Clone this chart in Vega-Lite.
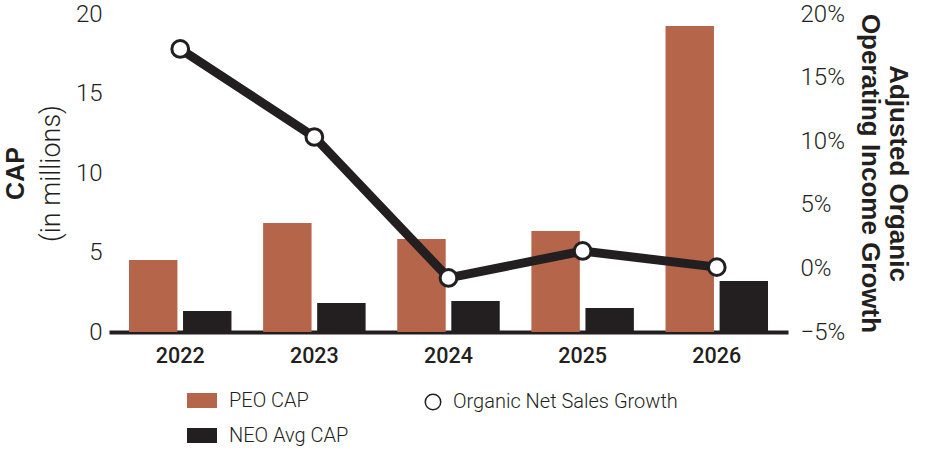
{
  "$schema": "https://vega.github.io/schema/vega-lite/v6.json",
  "width": 679,
  "height": 318,
  "autosize": {"type": "none"},
  "padding": {"left": 109, "top": 14, "right": 139, "bottom": 132},
  "background": "white",
  "config": {
    "view": {"stroke": null},
    "font": "Roboto",
    "axis": {"grid": false, "ticks": false, "domain": false, "labelColor": "#231f20", "titleColor": "#231f20"},
    "legend": {"labelFont": "Roboto", "labelFontWeight": 300, "labelFontSize": 20, "labelColor": "#231f20", "labelLimit": 500}
  },
  "datasets": {
    "bars": [
      {"year": "2022", "series": "PEO CAP", "value": 4.53},
      {"year": "2022", "series": "NEO Avg CAP", "value": 1.32},
      {"year": "2023", "series": "PEO CAP", "value": 6.86},
      {"year": "2023", "series": "NEO Avg CAP", "value": 1.82},
      {"year": "2024", "series": "PEO CAP", "value": 5.85},
      {"year": "2024", "series": "NEO Avg CAP", "value": 1.95},
      {"year": "2025", "series": "PEO CAP", "value": 6.35},
      {"year": "2025", "series": "NEO Avg CAP", "value": 1.51},
      {"year": "2026", "series": "PEO CAP", "value": 19.25},
      {"year": "2026", "series": "NEO Avg CAP", "value": 3.2}
    ],
    "growth": [
      {"year": "2022", "growth": 0.1725},
      {"year": "2023", "growth": 0.1033},
      {"year": "2024", "growth": -0.0075},
      {"year": "2025", "growth": 0.0137},
      {"year": "2026", "growth": 0.001}
    ]
  },
  "layer": [
    {
      "data": {"name": "bars"},
      "layer": [
        {
          "mark": {"type": "bar"},
          "encoding": {
            "x": {
              "field": "year", "type": "ordinal",
              "scale": {"paddingInner": 0.236, "paddingOuter": 0.149},
              "axis": {"title": null, "labelAngle": 0, "domain": true, "domainColor": "#231f20", "domainWidth": 4, "labelFontSize": 21.5, "labelFontWeight": 500, "labelPadding": 13}
            },
            "xOffset": {
              "field": "series", "type": "nominal",
              "sort": ["PEO CAP", "NEO Avg CAP"],
              "scale": {"paddingInner": 0.104}
            },
            "y": {
              "field": "value", "type": "quantitative",
              "scale": {"domain": [0, 20], "nice": false},
              "axis": {
                "orient": "left", "values": [0, 5, 10, 15, 20],
                "title": "(in millions)",
                "titleFont": "Roboto", "titleFontSize": 27, "titleFontWeight": 300, "titlePadding": 10,
                "labelFontSize": 24, "labelFontWeight": 300, "labelPadding": 7
              }
            },
            "color": {
              "field": "series", "type": "nominal",
              "scale": {"domain": ["PEO CAP", "NEO Avg CAP"], "range": ["#b5654a", "#231f20"]},
              "legend": {
                "title": null, "orient": "none", "direction": "vertical",
                "legendX": 78, "legendY": 371.5,
                "symbolType": "M-1,-0.5H1V0.5H-1Z", "symbolSize": 900, "symbolStrokeWidth": 0,
                "rowPadding": 10, "labelOffset": 12
              }
            }
          }
        },
        {
          "mark": {"type": "rule", "opacity": 0},
          "encoding": {
            "y": {
              "field": "value", "type": "quantitative",
              "axis": {
                "orient": "left", "labels": false, "values": [0, 20], "offset": 70,
                "title": "CAP", "titleFont": "Liberation Sans", "titleFontSize": 25, "titleFontWeight": 700, "titlePadding": 11
              }
            }
          }
        }
      ],
      "resolve": {"axis": {"y": "independent"}}
    },
    {
      "data": {"name": "growth"},
      "layer": [
        {
          "mark": {"type": "line", "color": "#231f20", "strokeWidth": 9},
          "encoding": {
            "x": {"field": "year", "type": "ordinal"},
            "y": {
              "field": "growth", "type": "quantitative",
              "scale": {"domain": [-0.05, 0.2], "nice": false},
              "axis": {
                "orient": "right", "values": [-0.05, 0, 0.05, 0.1, 0.15, 0.2], "format": ".0%",
                "title": ["Adjusted Organic", "Operating Income Growth"],
                "titleFont": "Liberation Sans", "titleLineHeight": 28,
                "titleAngle": 90, "titleFontSize": 26, "titleFontWeight": 700, "titlePadding": 12,
                "labelFontSize": 24, "labelFontWeight": 300, "labelPadding": 12
              }
            }
          }
        },
        {
          "mark": {"type": "point", "filled": false, "fill": "white", "fillOpacity": 1, "stroke": "#231f20", "strokeWidth": 3, "size": 280, "opacity": 1},
          "encoding": {
            "x": {"field": "year", "type": "ordinal"},
            "y": {"field": "growth", "type": "quantitative"},
            "shape": {
              "datum": "Organic Net Sales Growth",
              "scale": {"range": ["circle"]},
              "legend": {
                "title": null, "orient": "none", "legendX": 314, "legendY": 378,
                "symbolType": "circle", "symbolSize": 240, "labelOffset": 10,
                "encode": {"symbols": {"update": {"fill": {"value": "white"}, "stroke": {"value": "#231f20"}, "strokeWidth": {"value": 4}, "opacity": {"value": 1}}}}
              }
            }
          }
        }
      ]
    }
  ],
  "resolve": {"scale": {"y": "independent", "color": "independent", "shape": "independent"}}
}
